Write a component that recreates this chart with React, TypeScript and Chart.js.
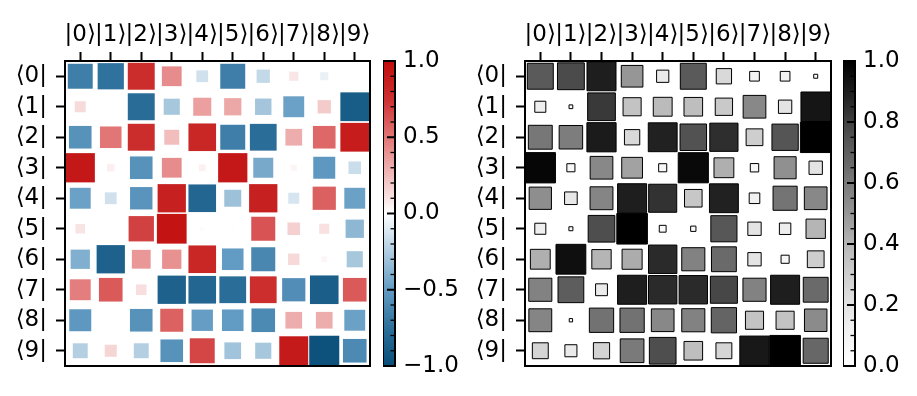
import React, { useEffect, useRef } from 'react';
import { Chart, registerables } from 'chart.js';

Chart.register(...registerables);

// ---- data ----
const X_LABELS = ['|0⟩', '|1⟩', '|2⟩', '|3⟩', '|4⟩', '|5⟩', '|6⟩', '|7⟩', '|8⟩', '|9⟩'];
const Y_LABELS = ['⟨0|', '⟨1|', '⟨2|', '⟨3|', '⟨4|', '⟨5|', '⟨6|', '⟨7|', '⟨8|', '⟨9|'];

const SIGNED_ROW_0 = [-0.67, -0.74, 0.78, 0.42, -0.15, -0.67, -0.19, 0.09, -0.07, -0.005];
const SIGNED_ROW_1 = [0.13, 0.008, -0.78, -0.28, 0.35, 0.32, -0.29, -0.47, 0.19, -0.89];
const SIGNED_ROW_2 = [-0.55, 0.5, 0.78, 0.24, 0.82, -0.67, -0.77, 0.3, 0.55, 0.89];
const SIGNED_ROW_3 = [0.92, 0.06, -0.55, 0.42, 0.05, 0.92, -0.43, 0.04, -0.52, -0.17];
const SIGNED_ROW_4 = [-0.47, -0.15, -0.54, 0.86, -0.82, -0.31, 0.86, -0.13, 0.58, -0.47];
const SIGNED_ROW_5 = [0.1, 0.003, 0.69, 0.95, -0.017, -0.008, 0.62, 0.17, 0.11, -0.36];
const SIGNED_ROW_6 = [-0.4, -0.86, 0.38, 0.4, 0.82, -0.5, -0.62, 0.14, 0.035, -0.28];
const SIGNED_ROW_7 = [0.47, 0.6, 0.12, -0.86, -0.82, -0.77, 0.77, -0.58, -0.88, 0.6];
const SIGNED_ROW_8 = [-0.52, 0.002, -0.55, 0.57, -0.49, -0.5, -0.6, 0.3, 0.3, -0.47];
const SIGNED_ROW_9 = [-0.24, 0.155, -0.24, -0.55, 0.67, -0.3, -0.28, 0.9, -0.97, -0.6];
const SIGNED_MATRIX = [SIGNED_ROW_0, SIGNED_ROW_1, SIGNED_ROW_2, SIGNED_ROW_3, SIGNED_ROW_4,
  SIGNED_ROW_5, SIGNED_ROW_6, SIGNED_ROW_7, SIGNED_ROW_8, SIGNED_ROW_9];

const MAG_ROW_0 = [0.72, 0.77, 0.9, 0.5, 0.16, 0.72, 0.25, 0.1, 0.1, 0.017];
const MAG_ROW_1 = [0.13, 0.015, 0.82, 0.35, 0.38, 0.37, 0.32, 0.55, 0.19, 0.93];
const MAG_ROW_2 = [0.61, 0.59, 0.91, 0.25, 0.89, 0.75, 0.85, 0.3, 0.74, 1.0];
const MAG_ROW_3 = [0.98, 0.07, 0.55, 0.46, 0.07, 0.97, 0.42, 0.075, 0.52, 0.19];
const MAG_ROW_4 = [0.53, 0.17, 0.56, 0.9, 0.84, 0.33, 0.89, 0.12, 0.62, 0.55];
const MAG_ROW_5 = [0.13, 0.017, 0.76, 1.0, 0.05, 0.03, 0.73, 0.19, 0.14, 0.4];
const MAG_ROW_6 = [0.42, 0.95, 0.4, 0.43, 0.86, 0.57, 0.66, 0.19, 0.07, 0.3];
const MAG_ROW_7 = [0.57, 0.71, 0.15, 0.9, 0.86, 0.86, 0.78, 0.57, 0.9, 0.66];
const MAG_ROW_8 = [0.56, 0.012, 0.63, 0.63, 0.55, 0.57, 0.68, 0.35, 0.35, 0.54];
const MAG_ROW_9 = [0.27, 0.155, 0.28, 0.6, 0.76, 0.37, 0.27, 0.92, 1.0, 0.67];
const MAG_MATRIX = [MAG_ROW_0, MAG_ROW_1, MAG_ROW_2, MAG_ROW_3, MAG_ROW_4,
  MAG_ROW_5, MAG_ROW_6, MAG_ROW_7, MAG_ROW_8, MAG_ROW_9];

const SIGNED_CB_TICKS = [-1, -0.5, 0, 0.5, 1];
const MAG_CB_TICKS = [0, 0.2, 0.4, 0.6, 0.8, 1.0];

// ---- colour maps ----
type Stop = [number, [number, number, number]];
const DIVERGING: Stop[] = [
  [-1, [8, 78, 120]],
  [-0.75, [45, 112, 155]],
  [-0.5, [98, 155, 195]],
  [0, [255, 255, 255]],
  [0.5, [226, 118, 118]],
  [0.75, [205, 48, 48]],
  [1, [192, 12, 12]],
];
const GREYS: Stop[] = [
  [0, [255, 255, 255]], [0.125, [240, 240, 240]], [0.25, [217, 217, 217]],
  [0.375, [189, 189, 189]], [0.5, [150, 150, 150]], [0.625, [115, 115, 115]],
  [0.75, [82, 82, 82]], [0.875, [37, 37, 37]], [1, [0, 0, 0]],
];

function colorAt(stops: Stop[], v: number): string {
  const lo = stops[0][0], hi = stops[stops.length - 1][0];
  const t = Math.max(lo, Math.min(hi, v));
  for (let k = 0; k < stops.length - 1; k++) {
    const [a, ca] = stops[k];
    const [b, cb] = stops[k + 1];
    if (t >= a && t <= b) {
      const f = b === a ? 0 : (t - a) / (b - a);
      const c = ca.map((x, i) => Math.round(x + (cb[i] - x) * f));
      return `rgb(${c[0]},${c[1]},${c[2]})`;
    }
  }
  const c = stops[stops.length - 1][1];
  return `rgb(${c[0]},${c[1]},${c[2]})`;
}

const FONT = { family: 'DejaVu Sans', size: 23 };

const framePlugin = {
  id: 'frame',
  afterDraw(chart: any) {
    const a = chart.chartArea;
    const c = chart.ctx;
    c.save();
    c.strokeStyle = '#000';
    c.lineWidth = 2;
    c.strokeRect(a.left, a.top, a.right - a.left, a.bottom - a.top);
    c.restore();
  },
};

function hintonConfig(values: number[][], stops: Stop[], edge: number, rightPad: number) {
  const data: any[] = [];
  values.forEach((row, i) => row.forEach((v, j) => data.push({ x: j, y: i, v })));
  const sizeOf = (ctx: any) => {
    const raw = ctx.raw;
    if (!raw) return 0;
    const xs = ctx.chart.scales.x;
    const cell = Math.abs(xs.getPixelForValue(1) - xs.getPixelForValue(0));
    return (Math.sqrt(Math.min(1, Math.abs(raw.v))) * cell) / Math.SQRT2;
  };
  const tickGrid = { drawOnChartArea: false, drawTicks: true, tickLength: 9, tickWidth: 2, tickColor: '#000' };
  return {
    type: 'scatter',
    data: {
      datasets: [{
        data,
        pointStyle: 'rect',
        pointRadius: sizeOf,
        pointHoverRadius: sizeOf,
        pointBackgroundColor: (ctx: any) => (ctx.raw ? colorAt(stops, ctx.raw.v) : '#fff'),
        pointBorderColor: '#000',
        pointBorderWidth: edge,
        clip: false,
      }],
    },
    options: {
      responsive: false,
      animation: false,
      devicePixelRatio: 1,
      events: [],
      layout: { padding: { left: 0, top: 0, right: rightPad, bottom: 30 } },
      plugins: { legend: { display: false }, tooltip: { enabled: false } },
      scales: {
        x: {
          type: 'linear', position: 'top', min: -0.5, max: 9.5,
          afterBuildTicks: (s: any) => { s.ticks = X_LABELS.map((_, i) => ({ value: i })); },
          afterFit: (s: any) => { s.height = 61; },
          ticks: { autoSkip: false, maxRotation: 0, minRotation: 0, padding: 3, color: '#000', font: FONT,
            callback: (_v: any, i: number) => X_LABELS[i] },
          grid: tickGrid,
          border: { display: false },
        },
        y: {
          type: 'linear', position: 'left', reverse: true, min: -0.5, max: 9.5,
          afterBuildTicks: (s: any) => { s.ticks = Y_LABELS.map((_, i) => ({ value: i })); },
          afterFit: (s: any) => { s.width = 65; },
          ticks: { autoSkip: false, padding: 9, color: '#000', font: FONT,
            callback: (_v: any, i: number) => Y_LABELS[i] },
          grid: tickGrid,
          border: { display: false },
        },
      },
    },
    plugins: [framePlugin],
  };
}

function colorbarConfig(min: number, max: number, majors: number[], minorCount: number, stops: Stop[], axisWidth: number) {
  const cbTicks = {
    id: 'cbTicks',
    afterDraw(chart: any) {
      const a = chart.chartArea;
      const ys = chart.scales.y;
      const c = chart.ctx;
      c.save();
      c.strokeStyle = '#000';
      for (let k = 0; k <= minorCount; k++) {
        const v = min + ((max - min) * k) / minorCount;
        const isMajor = majors.some((m) => Math.abs(m - v) < 1e-9);
        const y = ys.getPixelForValue(v);
        c.lineWidth = isMajor ? 2 : 1.3;
        const len = isMajor ? 8 : 4.5;
        c.beginPath();
        c.moveTo(a.right - len, y);
        c.lineTo(a.right, y);
        c.stroke();
      }
      c.lineWidth = 2;
      c.strokeRect(a.left, a.top, a.right - a.left, a.bottom - a.top);
      c.restore();
    },
  };
  return {
    type: 'bar',
    data: {
      labels: [''],
      datasets: [{
        data: [[min, max]],
        borderWidth: 0,
        barPercentage: 1,
        categoryPercentage: 1,
        backgroundColor: (ctx: any) => {
          const chart = ctx.chart;
          const ys = chart.scales.y;
          if (!chart.chartArea || !ys) return '#fff';
          const g = chart.ctx.createLinearGradient(0, ys.getPixelForValue(min), 0, ys.getPixelForValue(max));
          stops.forEach(([v, col]) => g.addColorStop((v - min) / (max - min), `rgb(${col[0]},${col[1]},${col[2]})`));
          return g;
        },
      }],
    },
    options: {
      responsive: false,
      animation: false,
      devicePixelRatio: 1,
      events: [],
      layout: { padding: { left: 0, top: 61, right: 0, bottom: 30 } },
      plugins: { legend: { display: false }, tooltip: { enabled: false } },
      scales: {
        x: { display: false },
        y: {
          position: 'right', min, max,
          afterBuildTicks: (s: any) => { s.ticks = majors.map((v) => ({ value: v })); },
          afterFit: (s: any) => { s.width = axisWidth; },
          ticks: { padding: 8, color: '#000', font: FONT,
            callback: (v: number) => (v < 0 ? '\u2212' : '') + Math.abs(v).toFixed(1) },
          grid: { display: false, drawTicks: false },
          border: { display: false },
        },
      },
    },
    plugins: [cbTicks],
  };
}

function ChartCanvas({ left, width, make }: { left: number; width: number; make: () => any }) {
  const ref = useRef<HTMLCanvasElement>(null);
  useEffect(() => {
    const chart = new Chart(ref.current as HTMLCanvasElement, make());
    return () => chart.destroy();
  }, []);
  return (
    <canvas
      ref={ref}
      width={width}
      height={396}
      style={{ position: 'absolute', left, top: 0, width, height: 396 }}
    />
  );
}

export default function App() {
  return (
    <div style={{ position: 'fixed', left: 0, top: 0, width: 917, height: 396, background: '#fff' }}>
      <ChartCanvas left={0} width={380} make={() => hintonConfig(SIGNED_MATRIX, DIVERGING, 0, 10)} />
      <ChartCanvas left={383} width={100} make={() => colorbarConfig(-1, 1, SIGNED_CB_TICKS, 20, DIVERGING, 88)} />
      <ChartCanvas left={460} width={380} make={() => hintonConfig(MAG_MATRIX, GREYS, 1, 9)} />
      <ChartCanvas left={843} width={74} make={() => colorbarConfig(0, 1, MAG_CB_TICKS, 20, GREYS, 62)} />
    </div>
  );
}
